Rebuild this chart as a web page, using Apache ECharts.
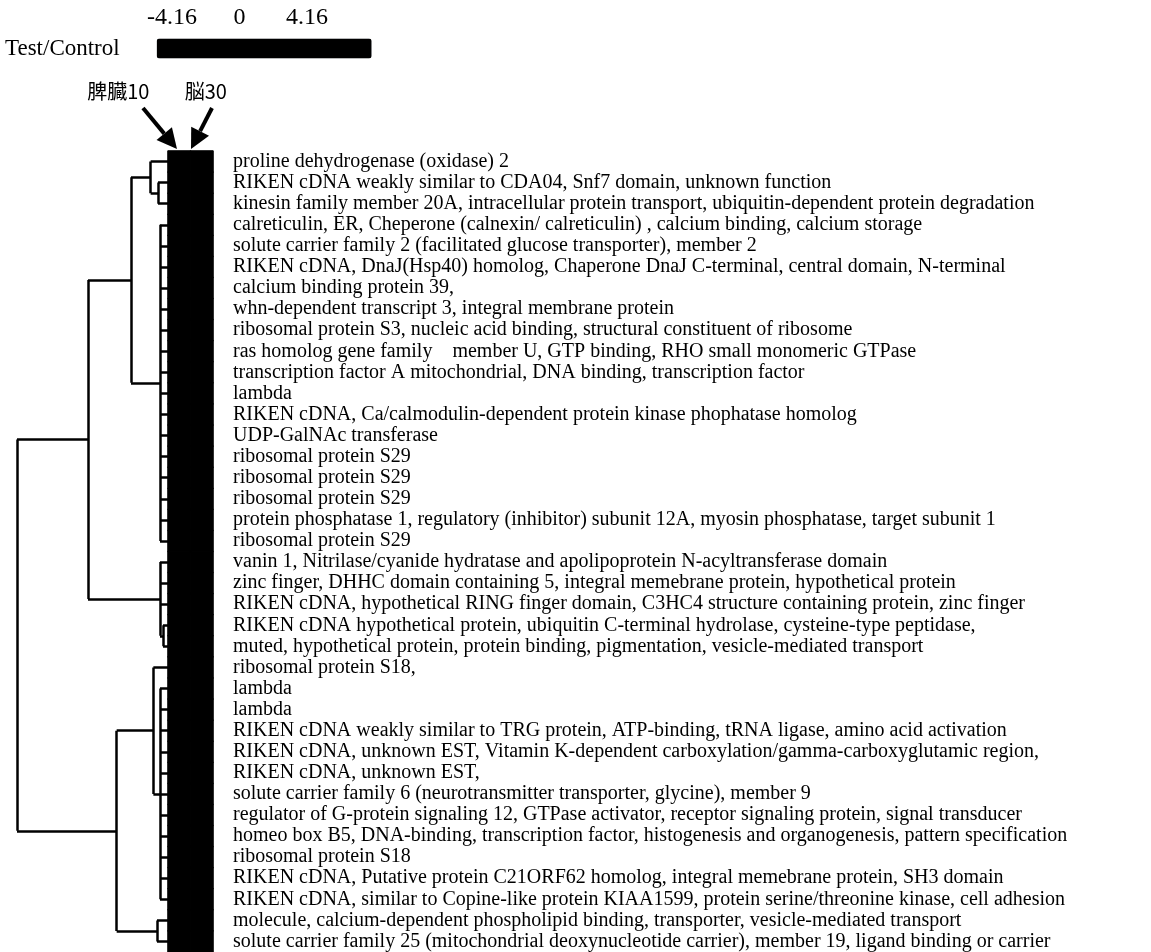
<!DOCTYPE html>
<html><head><meta charset="utf-8">
<script src="https://cdn.jsdelivr.net/npm/echarts@6/dist/echarts.min.js"></script>
<style>html,body{margin:0;padding:0;background:#fff;}#c{width:1151px;height:952px;}</style>
</head><body><div id="c"></div>
<script>
const samples = ['脾臓10', '脳30'];
const genes = [
  'proline dehydrogenase (oxidase) 2',
  'RIKEN cDNA weakly similar to CDA04, Snf7 domain, unknown function',
  'kinesin family member 20A, intracellular protein transport, ubiquitin-dependent protein degradation',
  'calreticulin, ER, Cheperone (calnexin/ calreticulin) , calcium binding, calcium storage',
  'solute carrier family 2 (facilitated glucose transporter), member 2',
  'RIKEN cDNA, DnaJ(Hsp40) homolog, Chaperone DnaJ C-terminal, central domain, N-terminal',
  'calcium binding protein 39,',
  'whn-dependent transcript 3, integral membrane protein',
  'ribosomal protein S3, nucleic acid binding, structural constituent of ribosome',
  'ras homolog gene family    member U, GTP binding, RHO small monomeric GTPase',
  'transcription factor A mitochondrial, DNA binding, transcription factor',
  'lambda',
  'RIKEN cDNA, Ca/calmodulin-dependent protein kinase phophatase homolog',
  'UDP-GalNAc transferase',
  'ribosomal protein S29',
  'ribosomal protein S29',
  'ribosomal protein S29',
  'protein phosphatase 1, regulatory (inhibitor) subunit 12A, myosin phosphatase, target subunit 1',
  'ribosomal protein S29',
  'vanin 1, Nitrilase/cyanide hydratase and apolipoprotein N-acyltransferase domain',
  'zinc finger, DHHC domain containing 5, integral memebrane protein, hypothetical protein',
  'RIKEN cDNA, hypothetical RING finger domain, C3HC4 structure containing protein, zinc finger',
  'RIKEN cDNA hypothetical protein, ubiquitin C-terminal hydrolase, cysteine-type peptidase,',
  'muted, hypothetical protein, protein binding, pigmentation, vesicle-mediated transport',
  'ribosomal protein S18,',
  'lambda',
  'lambda',
  'RIKEN cDNA weakly similar to TRG protein, ATP-binding, tRNA ligase, amino acid activation',
  'RIKEN cDNA, unknown EST, Vitamin K-dependent carboxylation/gamma-carboxyglutamic region,',
  'RIKEN cDNA, unknown EST,',
  'solute carrier family 6 (neurotransmitter transporter, glycine), member 9',
  'regulator of G-protein signaling 12, GTPase activator, receptor signaling protein, signal transducer',
  'homeo box B5, DNA-binding, transcription factor, histogenesis and organogenesis, pattern specification',
  'ribosomal protein S18',
  'RIKEN cDNA, Putative protein C21ORF62 homolog, integral memebrane protein, SH3 domain',
  'RIKEN cDNA, similar to Copine-like protein KIAA1599, protein serine/threonine kinase, cell adhesion',
  'molecule, calcium-dependent phospholipid binding, transporter, vesicle-mediated transport',
  'solute carrier family 25 (mitochondrial deoxynucleotide carrier), member 19, ligand binding or carrier'
];
// Test/Control log ratios (every cell prints black in the reference)
const spleen10 = [0,0,0,0,0,0,0,0,0,0, 0,0,0,0,0,0,0,0,0,0, 0,0,0,0,0,0,0,0,0,0, 0,0,0,0,0,0,0,0];
const brain30  = [0,0,0,0,0,0,0,0,0,0, 0,0,0,0,0,0,0,0,0,0, 0,0,0,0,0,0,0,0,0,0, 0,0,0,0,0,0,0,0];
const scaleTicks = [-4.16, 0, 4.16];
const scaleTitle = 'Test/Control';
// dendrogram merges: [node name, children (row index or node name), merge height]
const dendroMerges = [
  ['a',   [1, 2], 0.066],
  ['b',   [0, 'a'], 0.115],
  ['l1',  [3, 4, 5, 6, 7, 8, 9, 10, 11, 12, 13, 14, 15, 16, 17, 18], 0.053],
  ['c1',  ['b', 'l1'], 0.245],
  ['p',   [22, 23], 0.033],
  ['l2',  [19, 20, 21, 'p'], 0.053],
  ['d',   ['c1', 'l2'], 0.53],
  ['l3',  [25, 26, 27, 28, 29, 30, 31, 32, 33, 34, 35], 0.053],
  ['e',   [24, 'l3'], 0.097],
  ['p2',  [36, 37], 0.073],
  ['f',   ['e', 'p2'], 0.34],
  ['root',['d', 'f'], 1.0]
];

const N = genes.length;
const TOP = 151, ROWH = 21.24, H = N * ROWH;
const serif = "'Liberation Serif', 'Times New Roman', serif";
const cjk = "'Noto Sans CJK JP', sans-serif";

const heatData = [];
for (let i = 0; i < N; i++) { heatData.push([0, i, spleen10[i]]); heatData.push([1, i, brain30[i]]); }

// dendrogram segments
const pos = {};
const segs = [];
dendroMerges.forEach(([name, kids, h]) => {
  const ys = [];
  kids.forEach(k => {
    const c = typeof k === 'number' ? { y: k, h: 0 } : pos[k];
    ys.push(c.y);
    segs.push({ coords: [[c.h, c.y], [h, c.y]] });
  });
  const y0 = Math.min(...ys), y1 = Math.max(...ys);
  segs.push({ coords: [[h, y0], [h, y1]] });
  pos[name] = { y: (y0 + y1) / 2, h: h };
});

function arrow(x1, y1, x2, y2) {
  const dx = x2 - x1, dy = y2 - y1, L = Math.hypot(dx, dy), ux = dx / L, uy = dy / L;
  const hl = 20, hw = 10;
  const bx = x2 - ux * hl, by = y2 - uy * hl;
  return [
    { type: 'line', shape: { x1: x1, y1: y1, x2: bx, y2: by }, style: { stroke: '#000', lineWidth: 4 } },
    { type: 'polygon', shape: { points: [[x2, y2], [bx - uy * hw, by + ux * hw], [bx + uy * hw, by - ux * hw]] }, style: { fill: '#000' } }
  ];
}

const chart = echarts.init(document.getElementById('c'));
chart.setOption({
  animation: false,
  backgroundColor: '#fff',
  grid: [
    { left: 17, width: 151, top: TOP, height: H },
    { left: 168, width: 45, top: TOP, height: H },
    { left: 172, width: 135, top: 38, height: 20 }
  ],
  xAxis: [
    { gridIndex: 0, type: 'value', min: 0, max: 1, inverse: true, show: false },
    { gridIndex: 1, type: 'category', data: samples, position: 'top',
      axisLine: { show: false }, axisTick: { show: false }, splitLine: { show: false },
      axisLabel: { margin: 50, interval: 0, fontFamily: cjk, fontSize: 20, color: '#000',
        formatter: (v, i) => i === 0 ? '{l|' + v + '}' : '{r|' + v + '}',
        rich: { l: { padding: [0, 122, 0, 0], fontSize: 20, fontFamily: cjk, color: '#000' },
                r: { padding: [0, 0, 0, 8], fontSize: 20, fontFamily: cjk, color: '#000' } } } },
    { gridIndex: 2, type: 'value', min: scaleTicks[0], max: scaleTicks[2], interval: scaleTicks[2], position: 'top',
      axisLine: { show: false }, axisTick: { show: false }, splitLine: { show: false },
      axisLabel: { margin: 8, showMinLabel: true, showMaxLabel: true, fontFamily: serif, fontSize: 24, color: '#000',
        formatter: v => String(v) } }
  ],
  yAxis: [
    { gridIndex: 0, type: 'value', min: -0.5, max: N - 0.5, inverse: true, show: false },
    { gridIndex: 1, type: 'category', data: genes, inverse: true, position: 'right',
      axisLine: { show: false }, axisTick: { show: false }, splitLine: { show: false },
      axisLabel: { margin: 20, interval: 0, align: 'left', padding: [0, 0, 9, 0],
        fontFamily: serif, fontSize: 20, color: '#000' } },
    { gridIndex: 2, type: 'value', show: false, min: 0, max: 1 }
  ],
  visualMap: {
    type: 'continuous', min: scaleTicks[0], max: scaleTicks[2], seriesIndex: 1,
    orient: 'horizontal', left: -10, top: 22, itemWidth: 20, itemHeight: 215,
    calculable: false, text: ['', scaleTitle], textGap: 37,
    textStyle: { fontFamily: serif, fontSize: 23, color: '#000' },
    inRange: { color: ['#000000', '#000000'] }
  },
  graphic: [].concat(arrow(143, 108, 177, 149), arrow(212, 108, 191, 149)),
  series: [
    { type: 'lines', coordinateSystem: 'cartesian2d', xAxisIndex: 0, yAxisIndex: 0, silent: true,
      lineStyle: { color: '#000', width: 2.5, opacity: 1 }, data: segs },
    { type: 'heatmap', xAxisIndex: 1, yAxisIndex: 1, data: heatData, silent: true,
      itemStyle: { borderWidth: 1, borderColor: '#000' } },
    { type: 'scatter', xAxisIndex: 2, yAxisIndex: 2, data: [] }
  ]
});
</script></body></html>
